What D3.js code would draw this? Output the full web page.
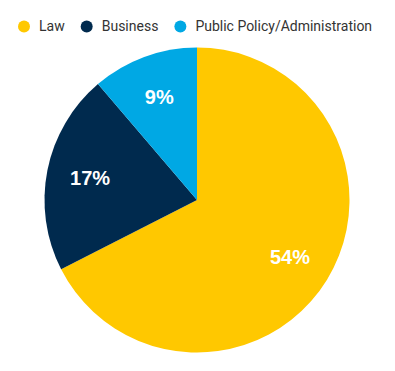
<!DOCTYPE html>
<html><head><meta charset="utf-8">
<script src="https://cdn.jsdelivr.net/npm/d3@7"></script>
<style>html,body{margin:0;padding:0;background:#fff;}</style>
</head><body>
<svg id="c" width="395" height="371"></svg>
<script>
const categories = ["Law", "Business", "Public Policy/Administration"];
const values = [54, 17, 9];
const colors = ["#FFC800", "#002A4E", "#00A8E4"];

const svg = d3.select("#c");
const cx = 197, cy = 200, R = 152.5;

// legend
const leg = svg.append("g");
let x = 24;
categories.forEach((c, i) => {
  leg.append("circle").attr("cx", x).attr("cy", 26.5).attr("r", 6).attr("fill", colors[i]);
  const t = leg.append("text").attr("x", x + 15).attr("y", 26.5).attr("dy", "0.35em")
    .attr("font-family", "Roboto, sans-serif").attr("font-size", 14).attr("fill", "#333")
    .text(c);
  x = x + 15 + t.node().getComputedTextLength() + 22;
});

const pie = d3.pie().sort(null).value(d => d)(values);
const arc = d3.arc().innerRadius(0).outerRadius(R);
const labelArc = d3.arc().innerRadius(109).outerRadius(109);
const g = svg.append("g").attr("transform", `translate(${cx},${cy})`);
g.selectAll("path").data(pie).join("path").attr("d", arc).attr("fill", (d, i) => colors[i]);
g.selectAll("text").data(pie).join("text")
  .attr("transform", d => `translate(${labelArc.centroid(d)})`)
  .attr("text-anchor", "middle").attr("dy", "0.33em")
  .attr("font-family", "'Liberation Sans', Arial, sans-serif").attr("font-weight", "bold")
  .attr("font-size", 20).attr("fill", "#fff")
  .text(d => d.data + "%");
</script>
</body></html>
